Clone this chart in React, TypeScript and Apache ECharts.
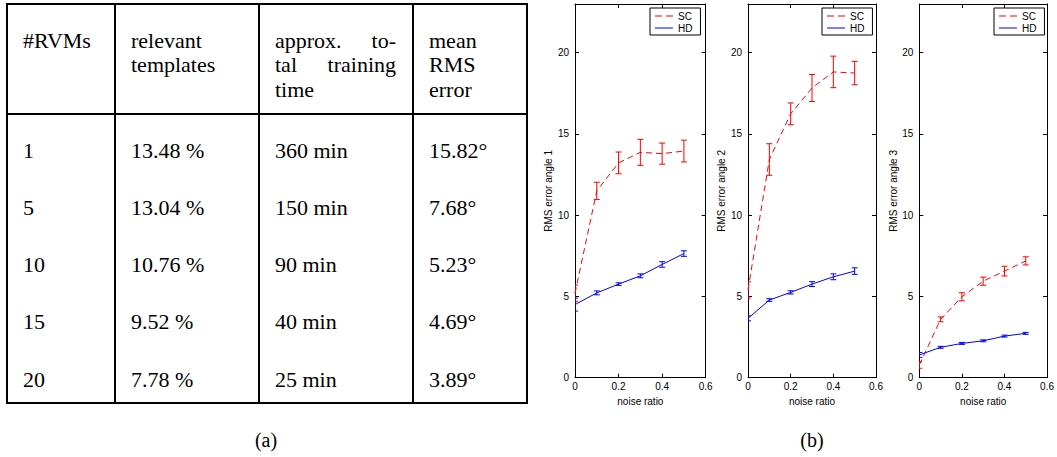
import React, { useEffect, useRef } from 'react';
import * as echarts from 'echarts';

// ---------------- data ----------------
const noiseRatios = [0, 0.1, 0.2, 0.3, 0.4, 0.5];

const scMean1 = [5.2, 11.5, 13.22, 13.87, 13.79, 13.95];
const scErr1 = [0.5, 0.53, 0.67, 0.8, 0.65, 0.67];
const hdMean1 = [4.5, 5.22, 5.76, 6.27, 6.97, 7.64];
const hdErr1 = [0.4, 0.12, 0.08, 0.12, 0.17, 0.17];

const scMean2 = [5.4, 13.43, 16.24, 17.83, 18.82, 18.75];
const scErr2 = [0.5, 0.97, 0.67, 0.83, 0.97, 0.72];
const hdMean2 = [3.65, 4.78, 5.25, 5.76, 6.21, 6.56];
const hdErr2 = [0.15, 0.08, 0.1, 0.15, 0.18, 0.2];

const scMean3 = [0.78, 3.59, 4.98, 5.94, 6.56, 7.19];
const scErr3 = [0.2, 0.15, 0.25, 0.25, 0.3, 0.25];
const hdMean3 = [1.4, 1.87, 2.11, 2.27, 2.56, 2.73];
const hdErr3 = [0.15, 0.06, 0.06, 0.06, 0.06, 0.06];

const yAxisNames = ['RMS error angle 1', 'RMS error angle 2', 'RMS error angle 3'];
const xAxisName = 'noise ratio';
const xTickValues = [0, 0.2, 0.4, 0.6];
const yTickValues = [0, 5, 10, 15, 20];
const yMax = 23;
const seriesNames = ['SC', 'HD'];

const tableHeader = [
  ['#RVMs'],
  ['relevant', 'templates'],
  ['approx. to-', 'tal training', 'time'],
  ['mean', 'RMS', 'error'],
];
const rvmCounts = ['1', '5', '10', '15', '20'];
const relevantTemplates = ['13.48 %', '13.04 %', '10.76 %', '9.52 %', '7.78 %'];
const trainingTimes = ['360 min', '150 min', '90 min', '40 min', '25 min'];
const meanRmsErrors = ['15.82°', '7.68°', '5.23°', '4.69°', '3.89°'];
const panelLabels = ['(a)', '(b)'];

// ---------------- helpers ----------------
const panels = [
  { sc: scMean1, scE: scErr1, hd: hdMean1, hdE: hdErr1 },
  { sc: scMean2, scE: scErr2, hd: hdMean2, hdE: hdErr2 },
  { sc: scMean3, scE: scErr3, hd: hdMean3, hdE: hdErr3 },
];

const gridBoxes = [
  { left: 575, top: 4, width: 130.7, height: 373.7 },
  { left: 748, top: 4, width: 128, height: 373.7 },
  { left: 919.3, top: 4, width: 130.7, height: 373.7 },
];

const SANS = 'Liberation Sans';
const SERIF = 'Liberation Serif';
const RED = '#ff0000';
const BLUE = '#0000ff';
const DASH_ICON = 'path://M0,0h7v1h-7zM11,0h7v1h-7z';
const SOLID_ICON = 'path://M0,0h18v1h-18z';

function errorBarSeries(name: string, means: number[], errs: number[], color: string, idx: number) {
  return {
    name,
    type: 'custom',
    xAxisIndex: idx * 2,
    yAxisIndex: idx * 2,
    clip: true,
    z: 3,
    data: noiseRatios.map((x, i) => [x, means[i] - errs[i], means[i] + errs[i]]),
    encode: { x: 0, y: [1, 2] },
    renderItem: (params: any, api: any) => {
      const x = api.value(0);
      const lo = api.coord([x, api.value(1)]);
      const hi = api.coord([x, api.value(2)]);
      const w = 3;
      const style = { stroke: color, lineWidth: 1 };
      return {
        type: 'group',
        children: [
          { type: 'line', shape: { x1: hi[0], y1: hi[1], x2: lo[0], y2: lo[1] }, style },
          { type: 'line', shape: { x1: hi[0] - w, y1: hi[1], x2: hi[0] + w, y2: hi[1] }, style },
          { type: 'line', shape: { x1: lo[0] - w, y1: lo[1], x2: lo[0] + w, y2: lo[1] }, style },
        ],
      };
    },
  };
}

function buildTableGraphics() {
  const els: any[] = [];
  const colLines = [7, 115, 259, 413, 527];
  const rowLines = [4, 114, 403];
  const lineStyle = { stroke: '#000', lineWidth: 2 };
  rowLines.forEach((y) =>
    els.push({ type: 'line', shape: { x1: colLines[0] - 1, y1: y, x2: colLines[4] + 1, y2: y }, style: lineStyle })
  );
  colLines.forEach((x) =>
    els.push({ type: 'line', shape: { x1: x, y1: rowLines[0], x2: x, y2: rowLines[2] }, style: lineStyle })
  );
  const textEl = (text: string, x: number, y: number, align: string, size = 22) => ({
    type: 'text',
    x,
    y,
    style: {
      text,
      fontSize: size,
      fontFamily: SERIF,
      fill: '#000',
      align,
      verticalAlign: 'middle',
      textAlign: align,
      textVerticalAlign: 'middle',
    },
  });
  const headerY = [40, 64, 89];
  tableHeader.forEach((lines, c) => {
    const xl = colLines[c] + 16;
    const xr = colLines[c + 1] - 17;
    lines.forEach((line, li) => {
      const words = line.split(' ');
      const justify = c === 2 && li < lines.length - 1 && words.length > 1;
      if (justify) {
        els.push(textEl(words[0], xl, headerY[li], 'left'));
        els.push(textEl(words[words.length - 1], xr, headerY[li], 'right'));
      } else {
        els.push(textEl(line, xl, headerY[li], 'left'));
      }
    });
  });
  const rowY = [150, 207, 264, 321, 379];
  const cols = [rvmCounts, relevantTemplates, trainingTimes, meanRmsErrors];
  cols.forEach((col, c) => {
    col.forEach((t, r) => els.push(textEl(t, colLines[c] + 16, rowY[r], 'left')));
  });
  const labelX = [266, 812];
  panelLabels.forEach((t, i) => els.push(textEl(t, labelX[i], 440, 'center', 20)));
  return els;
}

function buildOption() {
  const xAxes: any[] = [];
  const yAxes: any[] = [];
  const series: any[] = [];
  const legends: any[] = [];
  const legendLefts = [650, 822, 994];
  const axisLineStyle = { color: '#000', width: 1 };
  const tickStyle = { color: '#000', width: 1 };

  gridBoxes.forEach((g, i) => {
    xAxes.push({
      type: 'value',
      gridIndex: i,
      position: 'bottom',
      min: xTickValues[0],
      max: xTickValues[xTickValues.length - 1],
      interval: xTickValues[1] - xTickValues[0],
      axisLine: { show: true, onZero: false, lineStyle: axisLineStyle },
      axisTick: { show: true, inside: true, length: 4, lineStyle: tickStyle },
      axisLabel: { show: true, color: '#000', fontSize: 10, fontFamily: SANS, margin: 4 },
      splitLine: { show: false },
      name: xAxisName,
      nameLocation: 'middle',
      nameGap: 18,
      nameTextStyle: { color: '#000', fontSize: 10, fontFamily: SANS },
    });
    xAxes.push({
      type: 'value',
      gridIndex: i,
      position: 'top',
      min: xTickValues[0],
      max: xTickValues[xTickValues.length - 1],
      interval: xTickValues[1] - xTickValues[0],
      axisLine: { show: true, onZero: false, lineStyle: axisLineStyle },
      axisTick: { show: true, inside: true, length: 4, lineStyle: tickStyle },
      axisLabel: { show: false },
      splitLine: { show: false },
    });
    yAxes.push({
      type: 'value',
      gridIndex: i,
      position: 'left',
      min: yTickValues[0],
      max: yMax,
      interval: yTickValues[1] - yTickValues[0],
      axisLine: { show: true, onZero: false, lineStyle: axisLineStyle },
      axisTick: { show: true, inside: true, length: 4, lineStyle: tickStyle },
      axisLabel: {
        show: true,
        color: '#000',
        fontSize: 10,
        fontFamily: SANS,
        margin: 6,
        showMaxLabel: false,
        formatter: (v: number) => (yTickValues.indexOf(v) >= 0 ? String(v) : ''),
      },
      splitLine: { show: false },
      name: yAxisNames[i],
      nameLocation: 'middle',
      nameGap: 17,
      nameRotate: 90,
      nameTextStyle: { color: '#000', fontSize: 10, fontFamily: SANS },
    });
    yAxes.push({
      type: 'value',
      gridIndex: i,
      position: 'right',
      min: yTickValues[0],
      max: yMax,
      interval: yTickValues[1] - yTickValues[0],
      axisLine: { show: true, onZero: false, lineStyle: axisLineStyle },
      axisTick: { show: true, inside: true, length: 4, lineStyle: tickStyle },
      axisLabel: { show: false },
      splitLine: { show: false },
    });

    const p = panels[i];
    series.push({
      name: seriesNames[0],
      type: 'line',
      xAxisIndex: i * 2,
      yAxisIndex: i * 2,
      data: noiseRatios.map((x, k) => [x, p.sc[k]]),
      symbol: 'none',
      lineStyle: { color: RED, width: 1, type: [6, 4] },
      itemStyle: { color: RED },
      z: 2,
    });
    series.push(errorBarSeries('SC error', p.sc, p.scE, RED, i));
    series.push({
      name: seriesNames[1],
      type: 'line',
      xAxisIndex: i * 2,
      yAxisIndex: i * 2,
      data: noiseRatios.map((x, k) => [x, p.hd[k]]),
      symbol: 'none',
      lineStyle: { color: BLUE, width: 1, type: 'solid' },
      itemStyle: { color: BLUE },
      z: 2,
    });
    series.push(errorBarSeries('HD error', p.hd, p.hdE, BLUE, i));

    legends.push({
      show: true,
      data: [
        { name: seriesNames[0], icon: DASH_ICON },
        { name: seriesNames[1], icon: SOLID_ICON },
      ],
      orient: 'vertical',
      left: legendLefts[i],
      top: 8,
      padding: [3, 8, 2, 5],
      itemWidth: 18,
      itemHeight: 10,
      itemGap: 2,
      borderColor: '#000',
      borderWidth: 1,
      backgroundColor: '#fff',
      selectedMode: false,
      textStyle: { color: '#000', fontSize: 10, fontFamily: SANS },
    });
  });

  return {
    animation: false,
    backgroundColor: '#fff',
    grid: gridBoxes.map((g) => ({ ...g, containLabel: false })),
    xAxis: xAxes,
    yAxis: yAxes,
    legend: legends,
    series,
    graphic: buildTableGraphics(),
  };
}

export default function App() {
  const ref = useRef<HTMLDivElement>(null);
  useEffect(() => {
    if (!ref.current) return;
    const chart = echarts.init(ref.current, undefined, { renderer: 'svg' });
    chart.setOption(buildOption() as any);
    return () => chart.dispose();
  }, []);
  return (
    <div
      ref={ref}
      style={{ position: 'absolute', left: 0, top: 0, width: 1057, height: 457, background: '#fff' }}
    />
  );
}
